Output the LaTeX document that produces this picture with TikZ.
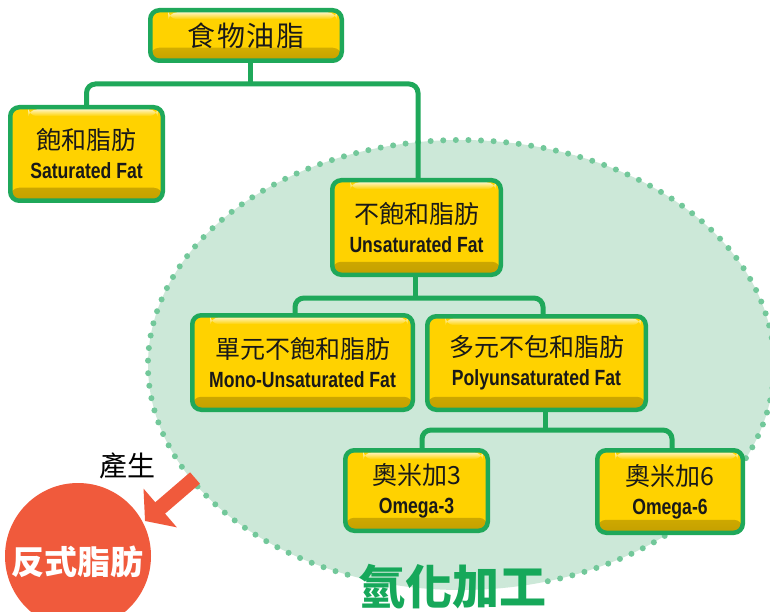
\documentclass[tikz,border=0pt]{standalone}
\usepackage{fontspec}
\usetikzlibrary{arrows.meta,calc}
\newfontfamily\zh{Noto Sans CJK TC}
\newfontfamily\en[FakeStretch=0.8]{Liberation Sans}
\definecolor{boxyellow}{HTML}{FFD200}
\definecolor{boxdark}{HTML}{C4A000}
\definecolor{bordergreen}{HTML}{1FA85A}
\definecolor{ellfill}{HTML}{CCE8D8}
\definecolor{dotgreen}{HTML}{72C89A}
\definecolor{transred}{HTML}{F05A3C}
\definecolor{titlegreen}{HTML}{16A85A}
\pgfdeclarelayer{bg}
\pgfsetlayers{bg,main}
\tikzset{
  fatbox/.style={draw=bordergreen, line width=4.5pt, fill=boxyellow, rounded corners=9pt,
    inner sep=0pt, align=center, text=black!90,
    font=\fontsize{22}{29}\selectfont,
    path picture={
      \shade[top color=boxyellow, bottom color=boxdark]
        ([yshift=13pt]path picture bounding box.south west) rectangle (path picture bounding box.south east);
      \shade[top color=white!75!boxyellow, bottom color=boxyellow]
        ([xshift=18pt,yshift=-2pt]path picture bounding box.north west) rectangle ([xshift=-5pt,yshift=-9pt]path picture bounding box.north east);
    }},
  conn/.style={draw=bordergreen, line width=5pt, rounded corners=9pt},
}
\newcommand{\zht}[1]{{\zh\fontsize{25}{29}\selectfont #1}}
\newcommand{\ent}[1]{{\en\bfseries\fontsize{22}{29}\selectfont #1}}
\begin{document}
\begin{tikzpicture}[x=1pt,y=-1pt]
\useasboundingbox (0,0) rectangle (770,612);
\clip (0,0) rectangle (770,612);

% boxes
\node[fatbox, minimum width=191.5pt, minimum height=50.5pt] (top) at (246,35.5)
  {{\zh\fontsize{28}{29}\selectfont 食\hspace{1.5pt}物\hspace{1.5pt}油\hspace{1.5pt}脂}};
\node[fatbox, minimum width=152.5pt, minimum height=93.5pt] (sat) at (86.5,154)
  {\zht{飽和脂肪}\\\ent{Saturated Fat}};
\node[fatbox, minimum width=168.5pt, minimum height=94.5pt] (unsat) at (416.5,227.5)
  {\zht{不飽和脂肪}\\\ent{Unsaturated Fat}};
\node[fatbox, minimum width=220.5pt, minimum height=94.5pt] (mono) at (302.5,362.5)
  {\zht{單元不飽和脂肪}\\\ent{Mono-Unsaturated Fat}};
\node[fatbox, minimum width=218.5pt, minimum height=93.5pt] (poly) at (536.5,363)
  {\zht{多元不包和脂肪}\\\ent{Polyunsaturated Fat}};
\node[fatbox, minimum width=142.5pt, minimum height=80.5pt] (om3) at (416.5,490.5)
  {\zht{奧米加3}\\\ent{Omega-3}};
\node[fatbox, minimum width=145.5pt, minimum height=82.5pt] (om6) at (670,491.5)
  {\zht{奧米加6}\\\ent{Omega-6}};

\coordinate (h1) at (0,84);
\coordinate (h2) at (0,298);
\coordinate (h3) at (0,430);

\begin{pgfonlayer}{bg}
  \fill[white] (0,0) rectangle (770,612);
  % hydrogenation area
  \fill[ellfill] (461,365) ellipse [x radius=313pt, y radius=225pt];
  \draw[dotgreen, line width=6pt, line cap=round, dash pattern=on 0pt off 12.6pt]
    (547.8,581.2) arc[start angle=286.1, end angle=610.8, x radius=313pt, y radius=225pt];
  % connectors
  \draw[conn] ([xshift=4pt]top.south) -- ([xshift=4pt]top.south |- h1);
  \draw[conn] (sat.north) |- ([xshift=1.5pt]unsat.north |- h1) -- ([xshift=1.5pt]unsat.north);
  \draw[conn] ([xshift=-1.5pt]unsat.south) -- ([xshift=-1.5pt]unsat.south |- h2);
  \draw[conn] ([xshift=-7.5pt]mono.north) |- ([xshift=6.5pt]poly.north |- h2) -- ([xshift=6.5pt]poly.north);
  \draw[conn] ([xshift=8.5pt]poly.south) -- ([xshift=8.5pt]poly.south |- h3);
  \draw[conn] ([xshift=5.5pt]om3.north) |- ([xshift=2pt]om6.north |- h3) -- ([xshift=2pt]om6.north);
\end{pgfonlayer}

% hydrogenation label
\node[anchor=base, text=titlegreen, inner sep=0pt, font=\zh\bfseries\fontsize{47}{50}\selectfont] (hyd) at (452,604)
  {氫化加工};

% trans fat
\node[circle, fill=transred, minimum size=146pt, inner sep=0pt] (trans) at (78,556) {};
\node[text=white, inner sep=0pt, font=\zh\bfseries\fontsize{33}{36}\selectfont] (transl) at (77,562) {反式脂肪};
\coordinate (as) at (195,478);
\coordinate (ae) at (145,521);
\draw[transred, line width=15pt, -{Triangle[length=20pt, width=50pt]}] (as) -- (ae);
\node[inner sep=0pt, font=\zh\fontsize{28}{30}\selectfont] (prod) at (127,466) {產生};
\end{tikzpicture}
\end{document}
